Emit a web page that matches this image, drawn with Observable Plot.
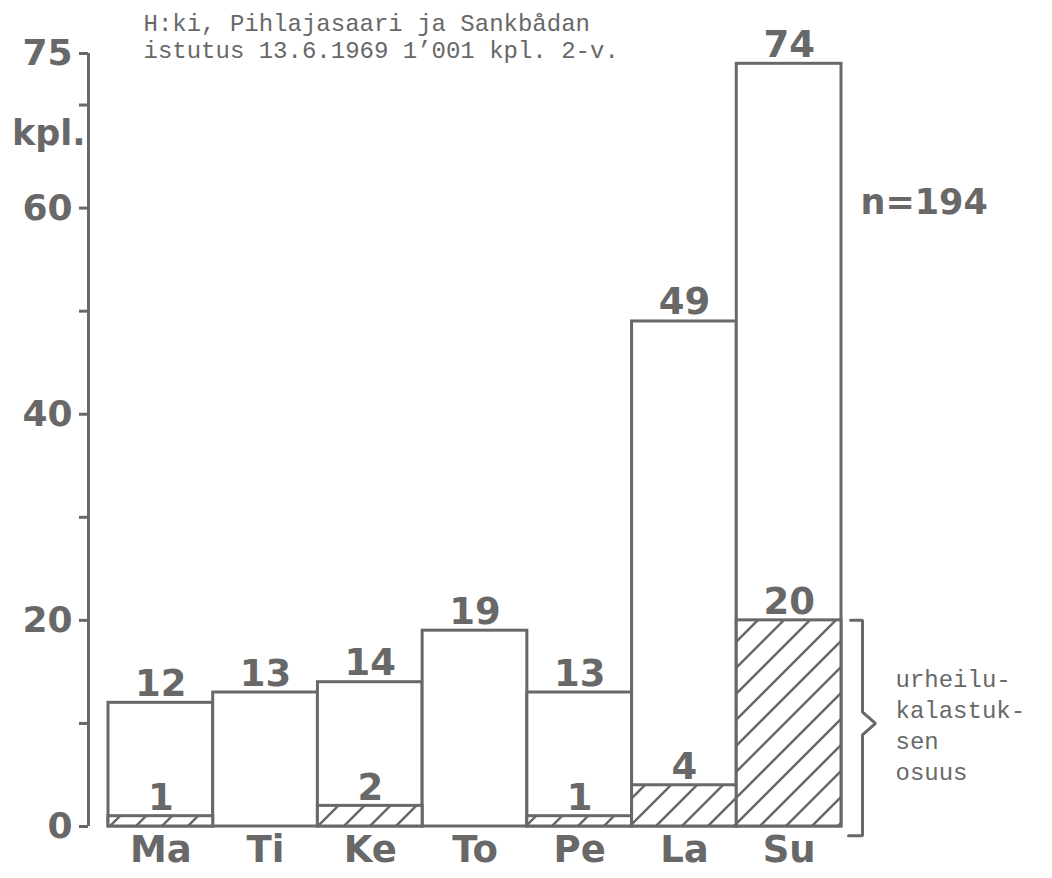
<!DOCTYPE html>
<html><head><meta charset="utf-8">
<script src="https://cdn.jsdelivr.net/npm/d3@7"></script>
<script src="https://cdn.jsdelivr.net/npm/@observablehq/plot@0.6"></script>
<style>html,body{margin:0;padding:0;background:#fff} svg{display:block}</style>
</head><body><div id="chart"></div>
<script>
// ---- data ----
const days = ["Ma", "Ti", "Ke", "To", "Pe", "La", "Su"];
const totals = [12, 13, 14, 19, 13, 49, 74];      // kpl. per weekday
const sport = [1, 0, 2, 0, 1, 4, 20];              // urheilukalastuksen osuus
const yTicks = [0, 20, 40, 60, 75];
const yMinorTicks = [10, 30, 50, 70];
const titleLines = ["H:ki, Pihlajasaari ja Sankbådan", "istutus 13.6.1969 1’001 kpl. 2-v."];
const unitLabel = "kpl.";
const braceLabelLines = ["urheilu-", "kalastuk-", "sen", "osuus"];

// ---- styles ----
const ink = "#686868";
const sans = "DejaVu Sans";
const mono = "Liberation Mono";
const W = 1052, H = 878;
const mL = 108, mR = 211, mT = 53, mB = 52;

const rows = days.map((day, i) => ({i, day, total: totals[i], sport: sport[i]}));
const sportRows = rows.filter(d => d.sport > 0);
const n = d3.sum(totals);
const last = rows[rows.length - 1];

// brace beside the last bar, offsets in pixels converted to x units
const pxPerUnit = (W - mL - mR) / days.length;
const u = 1 / pxPerUnit;
const xr = days.length;
const mid = last.sport / 2;
const brace = [
  {x: xr + 9 * u, y: last.sport},
  {x: xr + 21 * u, y: last.sport},
  {x: xr + 21 * u, y: mid + 1.1},
  {x: xr + 34 * u, y: mid},
  {x: xr + 21 * u, y: mid - 1.1},
  {x: xr + 21 * u, y: -0.9},
  {x: xr + 7 * u, y: -0.9}
];

const svg = Plot.plot({
  width: W, height: H,
  marginLeft: mL, marginRight: mR, marginTop: mT, marginBottom: mB,
  style: {fontFamily: sans, color: ink, background: "white", overflow: "visible"},
  x: {domain: [0, days.length]},
  y: {domain: [0, d3.max(yTicks)]},
  marks: [
    Plot.rectY(rows, {x1: "i", x2: d => d.i + 1, y: "total", fill: "white", stroke: ink, strokeWidth: 3}),
    Plot.rectY(sportRows, {x1: "i", x2: d => d.i + 1, y: "sport", fill: "url(#hatch)", stroke: ink, strokeWidth: 3}),
    Plot.text(rows, {x: d => d.i + 0.5, y: "total", text: d => String(d.total), lineAnchor: "bottom", dy: -7,
      fontSize: 37, fontWeight: "bold", fill: ink}),
    Plot.text(sportRows, {x: d => d.i + 0.5, y: "sport", text: d => String(d.sport), lineAnchor: "bottom", dy: -6,
      fontSize: 37, fontWeight: "bold", fill: ink}),
    Plot.ruleX([0], {y1: 0, y2: d3.max(yTicks), dx: -20, stroke: ink, strokeWidth: 3}),
    Plot.axisY({ticks: yTicks, tickSize: 9, tickPadding: 7, dx: -20, fontSize: 36, fontWeight: "bold",
      label: null, strokeWidth: 3, stroke: ink, fill: ink}),
    Plot.axisY({ticks: yMinorTicks, tickSize: 9, dx: -20, tickFormat: () => "", label: null, strokeWidth: 3, stroke: ink}),
    Plot.axisX({ticks: days.map((d, i) => i + 0.5), tickFormat: v => days[Math.round(v - 0.5)], tickSize: 0,
      tickPadding: 9, fontSize: 37, fontWeight: "bold", label: null, fill: ink}),
    Plot.line(brace, {x: "x", y: "y", stroke: ink, strokeWidth: 3, strokeLinejoin: "miter"}),
    Plot.text([braceLabelLines.join("\n")], {x: () => xr, y: () => mid, dx: 54, textAnchor: "start",
      lineAnchor: "middle", lineHeight: 1.3, fontFamily: mono, fontSize: 24, fill: ink}),
    Plot.text([`n=${n}`], {frameAnchor: "top-right", dx: 19, dy: 149, textAnchor: "start", lineAnchor: "middle",
      fontSize: 35, fontWeight: "bold", fill: ink}),
    Plot.text([unitLabel], {frameAnchor: "top-left", dx: -23, dy: 80, textAnchor: "end", lineAnchor: "middle",
      fontSize: 35, fontWeight: "bold", fill: ink}),
    Plot.text([titleLines.join("\n")], {frameAnchor: "top-left", dx: 35, dy: -41, textAnchor: "start",
      lineAnchor: "top", lineHeight: 1.1, fontFamily: mono, fontSize: 24, fill: ink})
  ]
});

// hatch pattern for the sport-fishing share
const s = 26;
const defs = d3.select(svg).insert("defs", ":first-child");
const pat = defs.append("pattern").attr("id", "hatch").attr("patternUnits", "userSpaceOnUse")
  .attr("width", s).attr("height", s);
pat.append("rect").attr("width", s).attr("height", s).attr("fill", "white");
pat.append("path").attr("d", `M${-s/4},${s/4}L${s/4},${-s/4}M0,${s}L${s},0M${3*s/4},${5*s/4}L${5*s/4},${3*s/4}`)
  .attr("stroke", ink).attr("stroke-width", 2.5);

document.getElementById("chart").append(svg);
</script>
</body></html>
